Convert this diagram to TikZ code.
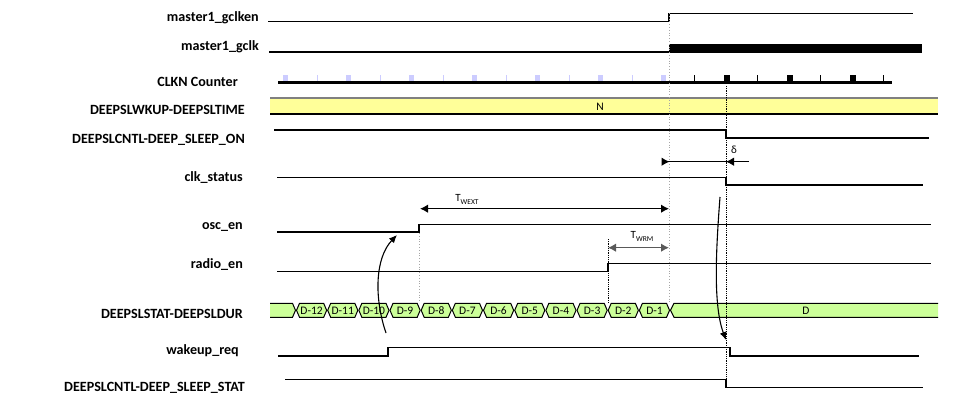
\documentclass[tikz,border=0pt]{standalone}
\usepackage{fontspec}
\setmainfont{Carlito}
\usetikzlibrary{arrows.meta,positioning}
\definecolor{busyellow}{HTML}{FFFF99}
\definecolor{busgreen}{HTML}{CCFF99}
\definecolor{ticklav}{HTML}{CCCCFF}

\begin{document}
\begin{tikzpicture}[x=1pt, y=-1pt,
    sig/.style={anchor=base east, inner sep=0pt, font=\fontsize{14.1}{16}\selectfont\bfseries},
    wave/.style={line width=1.2pt, line join=miter},
    busfont/.style={inner sep=0pt, font=\fontsize{11.5}{13}\selectfont},
    guide/.style={gray!70, dotted, line width=0.8pt},
    markline/.style={densely dotted, line width=0.8pt},
    dimarrow/.style={{Latex[length=8pt,width=8.5pt]}-{Latex[length=8pt,width=8.5pt]}, line width=1.3pt},
    cause/.style={-{Latex[length=8pt,width=7pt]}, line width=1.1pt}
]
    \useasboundingbox (0,0) rectangle (961,408);

    % Signal names
    \node[sig] (gclken) at (259,21.5) {master1\_gclken};
    \node[sig] (gclk) at (259,50) {master1\_gclk};
    \node[sig] (clkn) at (238,86) {CLKN Counter};
    \node[sig] (sltime) at (245,114) {DEEPSLWKUP-DEEPSLTIME};
    \node[sig] (slon) at (245,143.5) {DEEPSLCNTL-DEEP\_SLEEP\_ON};
    \node[sig] (clkst) at (243,181.7) {clk\_status};
    \node[sig] (oscen) at (243,229) {osc\_en};
    \node[sig] (radioen) at (243,268) {radio\_en};
    \node[sig] (sldur) at (243,318) {DEEPSLSTAT-DEEPSLDUR};
    \node[sig] (wkreq) at (239,354) {wakeup\_req};
    \node[sig] (slstat) at (245,391) {DEEPSLCNTL-DEEP\_SLEEP\_STAT};

    % Clocks
    \draw[wave] (268,21.5) -- (669,21.5) |- (913,13.3);
    \draw[wave] (269,52) -- (669,52);
    \fill (669,44) rectangle (922,52.6);

    % CLKN counter
    \foreach \x in {283,346,...,661} \fill[ticklav] (\x,75) rectangle ++(5,7);
    \foreach \x in {317,380,...,632} \draw[ticklav, line width=0.8pt] (\x,75) -- (\x,82);
    \foreach \x in {724,787,850} \fill (\x,75) rectangle ++(5.5,7);
    \foreach \x in {694,757,820,883} \draw[line width=0.9pt] (\x,75) -- (\x,82);
    \draw[line width=2.7pt] (278,82.7) -- (892,82.7);

    % Wake-up time register
    \fill[busyellow] (270,98) rectangle (938,114);
    \draw[gray, line width=1.6pt] (270,98) -- (938,98);
    \draw[line width=1.2pt] (270,114) -- (938,114);
    \node[busfont] (ntime) at (600,107) {N};

    % Sleep control and status
    \draw[wave] (274,130) -- (726,130) |- (929,138);
    \draw[wave] (277,177.3) -- (726,177.3) |- (923,185);
    \draw[wave] (277,232) -- (419,232) |- (931,224.3);
    \draw[wave] (277,271.3) -- (608,271.3) |- (931,263.3);

    % Sleep duration bus
    \filldraw[fill=busgreen, line width=1pt] (270,303.3) -- (292.5,303.3) -- (295.5,310.3) -- (292.5,317.3) -- (270,317.3);
    \foreach \i [evaluate=\i as \a using 296+31.17*\i,
                 evaluate=\i as \b using 296+31.17*(\i+1),
                 evaluate=\i as \n using int(12-\i)] in {0,...,11} {
        \filldraw[fill=busgreen, line width=1pt] (\a+3.5,303.3) -- (\b-3.5,303.3) -- (\b-0.5,310.3)
            -- (\b-3.5,317.3) -- (\a+3.5,317.3) -- (\a+0.5,310.3) -- cycle;
        \node[busfont] (seg\n) at ({(\a+\b)/2},310.6) {D-\n};
    }
    \filldraw[fill=busgreen, line width=1pt] (938,303.3) -- (674,303.3) -- (670.5,310.3) -- (674,317.3) -- (938,317.3);
    \node[busfont] (segD) at (806,310.6) {D};

    \draw[wave] (278,356) -- (388,356) |- (730,347.3) |- (919,356);
    \draw[wave] (285,379.3) -- (726,379.3) |- (923,387.3);

    % Guide lines
    \draw[guide] (669,13) -- (669,303);
    \draw[guide] (419,233) -- (419,303);
    \draw[markline] (608,239) -- (608,303);
    \draw[markline] (726,86) -- (726,387);

    % Timing intervals
    \coordinate (wextL) at (420,208.7);
    \coordinate (wextR) at (669,208.7);
    \draw[dimarrow] (wextL) -- (wextR);
    \node[inner sep=0pt, font=\fontsize{11}{13}\selectfont] (twext) at (467,199.5) {T\raisebox{-2.5pt}{\fontsize{7.5}{8}\selectfont WEXT}};

    \coordinate (wrmL) at (608,247.7);
    \coordinate (wrmR) at (669,247.7);
    \draw[dimarrow, black!65] (wrmL) -- (wrmR);
    \node[inner sep=0pt, font=\fontsize{11}{13}\selectfont] (twrm) at (642,236.5) {T\raisebox{-2.5pt}{\fontsize{7.5}{8}\selectfont WRM}};

    \coordinate (dL) at (662,161.7);
    \coordinate (dA) at (669.5,161.7);
    \coordinate (dB) at (726,161.7);
    \coordinate (dR) at (749,161.7);
    \draw[line width=1pt] (dL) -- (dR);
    \draw[-{Latex[length=8pt,width=8.5pt]}, line width=1pt] (dL) -- (dA);
    \draw[-{Latex[length=8pt,width=8.5pt]}, line width=1pt] (dR) -- (dB);
    \node[inner sep=0pt, font=\fontsize{11}{13}\selectfont] (delta) at (734,150) {δ};

    % Causes
    \coordinate (wkrise) at (386,333);
    \coordinate (oscrise) at (397,235);
    \draw[cause] (wkrise) .. controls (374,298) and (375,258) .. (oscrise);
    \coordinate (clkfall) at (720,197);
    \coordinate (wkfall) at (726,340);
    \draw[cause] (clkfall) .. controls (716,250) and (713,305) .. (wkfall);
\end{tikzpicture}
\end{document}
